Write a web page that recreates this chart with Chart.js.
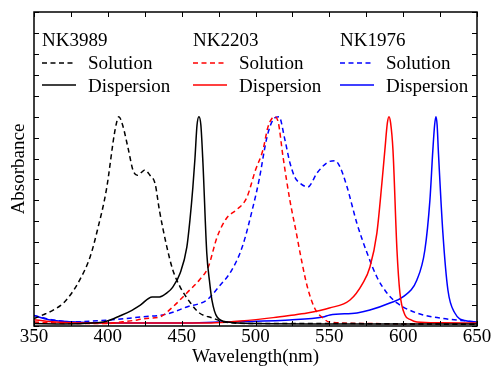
<!DOCTYPE html>
<html>
<head>
<meta charset="utf-8">
<script src="https://cdn.jsdelivr.net/npm/chart.js@4.4.1/dist/chart.umd.min.js"></script>
<style>
  html, body { margin: 0; padding: 0; background: #fff; }
  #wrap { width: 492px; height: 367px; }
</style>
</head>
<body>
<div id="wrap"><canvas id="absChart"></canvas></div>
<script>
// sample names and colours
var sampleNames = ["NK3989", "NK2203", "NK1976"];
var sampleColors = ["#000000", "#ff0000", "#0000ff"];
var stateNames = ["Solution", "Dispersion"];

// NK3989
var wlSol3989 = [350, 356, 363, 370, 376, 381, 388, 393, 399, 405, 407.5, 410, 414, 417, 420, 423, 425, 428.5, 432, 435, 440, 444, 449, 456, 462, 471, 479, 500, 550, 600, 650];
var absSol3989 = [0.035, 0.053, 0.076, 0.11, 0.162, 0.22, 0.33, 0.46, 0.65, 0.94, 1.0, 0.96, 0.84, 0.745, 0.72, 0.735, 0.745, 0.72, 0.68, 0.55, 0.377, 0.268, 0.186, 0.11, 0.062, 0.038, 0.019, 0.012, 0.012, 0.01, 0.008];
var wlDis3989 = [350, 370, 390, 397, 402, 408, 415, 422, 430, 435, 440, 444, 449, 453.5, 455.6, 457.6, 459, 460.4, 461.7, 463, 464.4, 467, 469, 470.5, 474, 481, 500, 550, 600, 650];
var absDis3989 = [0.012, 0.01, 0.014, 0.019, 0.03, 0.048, 0.07, 0.10, 0.139, 0.139, 0.158, 0.186, 0.253, 0.377, 0.506, 0.664, 0.80, 0.96, 1.0, 0.96, 0.78, 0.349, 0.205, 0.124, 0.043, 0.019, 0.012, 0.01, 0.01, 0.01];

// NK2203
var wlSol2203 = [350, 375, 400, 410, 420, 426, 435, 444, 453.5, 462, 468, 474, 480.5, 487, 494, 500, 505, 508.4, 511, 513.2, 515.5, 518.6, 523.3, 527.5, 531, 535, 540, 545.7, 550, 575, 600, 650];
var absSol2203 = [0.019, 0.012, 0.012, 0.02, 0.029, 0.036, 0.043, 0.091, 0.158, 0.22, 0.282, 0.425, 0.516, 0.554, 0.612, 0.745, 0.84, 0.95, 0.99, 1.0, 0.97, 0.81, 0.60, 0.45, 0.32, 0.19, 0.086, 0.038, 0.019, 0.012, 0.01, 0.01];
var wlDis2203 = [350, 360, 375, 400, 450, 470, 490, 512, 523, 535, 550, 564, 572.7, 577.5, 582.2, 585.6, 587.6, 589.3, 590.4, 591.5, 593.1, 595.8, 597.8, 601.2, 605, 609.3, 625, 650];
var absDis2203 = [0.03, 0.022, 0.016, 0.014, 0.014, 0.014, 0.024, 0.04, 0.05, 0.062, 0.086, 0.124, 0.205, 0.282, 0.444, 0.683, 0.84, 0.97, 1.0, 0.97, 0.84, 0.363, 0.158, 0.053, 0.03, 0.019, 0.015, 0.014];

// NK1976
var wlSol1976 = [350, 356, 362, 375, 401.5, 422, 440, 453.5, 467, 475, 484, 491, 498, 502.5, 507.7, 511.8, 515.9, 519.9, 523.3, 526.7, 530, 535.5, 541.6, 548.4, 553.8, 557.2, 562, 568.7, 575.5, 582.2, 589, 595.8, 609.3, 625, 650];
var absSol1976 = [0.05, 0.04, 0.03, 0.02, 0.029, 0.043, 0.057, 0.091, 0.124, 0.186, 0.268, 0.377, 0.56, 0.70, 0.90, 0.984, 1.0, 0.89, 0.78, 0.71, 0.683, 0.664, 0.73, 0.78, 0.79, 0.76, 0.664, 0.49, 0.35, 0.234, 0.158, 0.11, 0.062, 0.038, 0.019];
var wlDis1976 = [350, 360, 375, 400, 450, 475, 523, 545.7, 550.4, 568.7, 577.5, 591, 599.8, 609.3, 614.7, 618.1, 620.1, 621.3, 622.2, 623, 623.8, 626.9, 630.3, 635, 643.2, 650];
var absDis1976 = [0.05, 0.03, 0.02, 0.014, 0.014, 0.019, 0.029, 0.043, 0.053, 0.062, 0.076, 0.11, 0.139, 0.22, 0.363, 0.60, 0.84, 0.96, 1.0, 0.96, 0.84, 0.444, 0.172, 0.062, 0.024, 0.019];

var xTicks = [350, 400, 450, 500, 550, 600, 650];

function pts(wl, ab) {
  return wl.map(function(w, i) { return {x: w, y: ab[i]}; });
}

function series(name, state, color, wl, ab) {
  return {
    label: name + " " + state,
    data: pts(wl, ab),
    borderColor: color,
    backgroundColor: color,
    borderWidth: 1.5,
    borderDash: state === "Solution" ? [5, 3.5] : [],
    pointRadius: 0,
    cubicInterpolationMode: "monotone",
    fill: false
  };
}

var serif = "'Liberation Serif', 'Times New Roman', serif";

// inward ticks, frame and the three-column legend
var frameAndLegend = {
  id: "frameAndLegend",
  afterDatasetsDraw: function(chart) {
    var ctx = chart.ctx, a = chart.chartArea;
    var xs = chart.scales.x, ys = chart.scales.y;
    ctx.save();
    ctx.strokeStyle = "#000";
    ctx.lineWidth = 1;
    ctx.beginPath();
    xs.ticks.forEach(function(t) {
      var px = Math.round(xs.getPixelForValue(t.value)) + 0.5;
      ctx.moveTo(px, a.bottom); ctx.lineTo(px, a.bottom - 5);
      ctx.moveTo(px, a.top); ctx.lineTo(px, a.top + 5);
    });
    ys.ticks.forEach(function(t) {
      var py = Math.round(ys.getPixelForValue(t.value)) + 0.5;
      ctx.moveTo(a.left, py); ctx.lineTo(a.left + 5, py);
      ctx.moveTo(a.right, py); ctx.lineTo(a.right - 5, py);
    });
    ctx.stroke();
    ctx.lineWidth = 1.5;
    ctx.strokeRect(a.left, a.top, a.right - a.left, a.bottom - a.top);

    // legend
    var cols = [42, 193, 340];
    ctx.font = "19px " + serif;
    ctx.fillStyle = "#000";
    ctx.textBaseline = "alphabetic";
    sampleNames.forEach(function(n, i) {
      var x0 = cols[i];
      ctx.fillText(n, x0, 46);
      ctx.strokeStyle = sampleColors[i];
      ctx.lineWidth = 1.5;
      ctx.setLineDash([5, 3.5]);
      ctx.beginPath(); ctx.moveTo(x0, 63); ctx.lineTo(x0 + 34, 63); ctx.stroke();
      ctx.setLineDash([]);
      ctx.beginPath(); ctx.moveTo(x0, 85); ctx.lineTo(x0 + 34, 85); ctx.stroke();
      ctx.fillText(stateNames[0], x0 + 46, 68.5);
      ctx.fillText(stateNames[1], x0 + 46, 91.5);
    });
    ctx.restore();
  }
};

var ctx = document.getElementById("absChart");
var absChart = new Chart(ctx, {
  type: "line",
  data: {
    datasets: [
      series(sampleNames[0], "Solution", sampleColors[0], wlSol3989, absSol3989),
      series(sampleNames[0], "Dispersion", sampleColors[0], wlDis3989, absDis3989),
      series(sampleNames[1], "Solution", sampleColors[1], wlSol2203, absSol2203),
      series(sampleNames[1], "Dispersion", sampleColors[1], wlDis2203, absDis2203),
      series(sampleNames[2], "Solution", sampleColors[2], wlSol1976, absSol1976),
      series(sampleNames[2], "Dispersion", sampleColors[2], wlDis1976, absDis1976)
    ]
  },
  options: {
    responsive: true,
    maintainAspectRatio: false,
    animation: false,
    layout: { padding: { left: 9.5, right: 15, top: 12, bottom: 0.5 } },
    plugins: { legend: { display: false }, tooltip: { enabled: false } },
    scales: {
      x: {
        type: "linear",
        min: 350,
        max: 650,
        grid: { display: false, drawTicks: false },
        border: { display: false },
        ticks: {
          stepSize: 25,
          autoSkip: false,
          maxRotation: 0,
          padding: 0,
          color: "#000",
          font: { family: serif, size: 19, lineHeight: 1.158 },
          callback: function(v) { return xTicks.indexOf(v) >= 0 ? String(v) : ""; }
        },
        title: {
          display: true,
          text: "Wavelength(nm)",
          color: "#000",
          font: { family: serif, size: 19, lineHeight: 1 },
          padding: { top: -0.5, bottom: 0 }
        }
      },
      y: {
        min: 0,
        max: 1.5,
        grid: { display: false, drawTicks: false },
        border: { display: false },
        ticks: { display: false, stepSize: 0.1 },
        title: {
          display: true,
          text: "Absorbance",
          color: "#000",
          font: { family: serif, size: 19, lineHeight: 1 },
          padding: { top: 0, bottom: 5.5 }
        }
      }
    }
  },
  plugins: [frameAndLegend]
});
</script>
</body>
</html>
